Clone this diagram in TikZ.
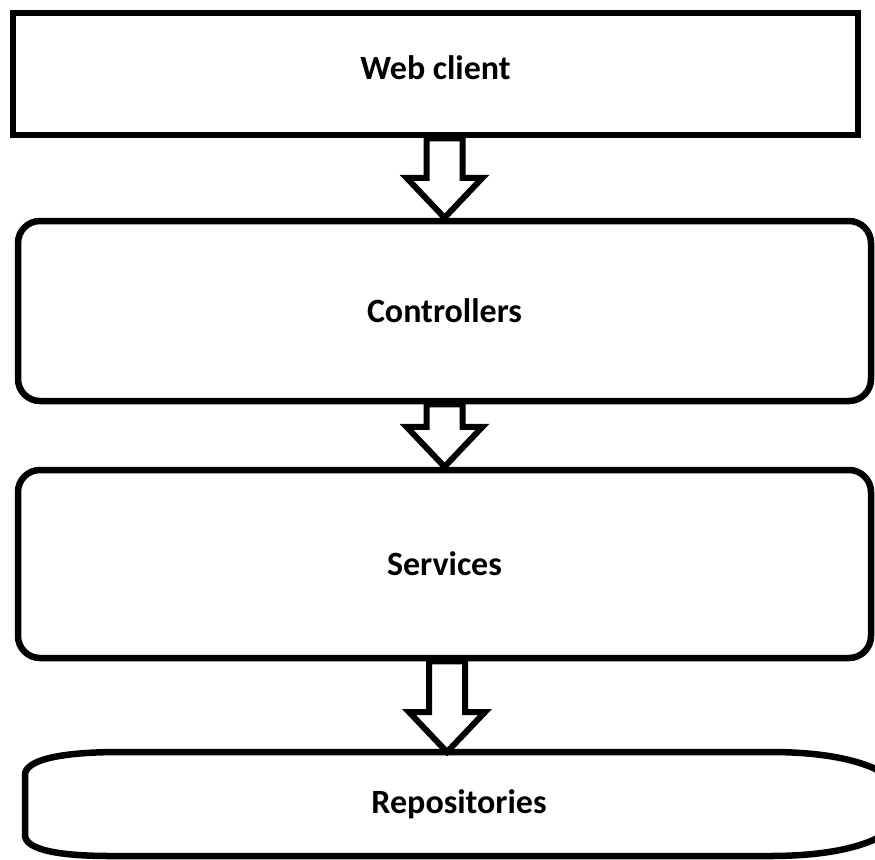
\documentclass[tikz,border=0pt]{standalone}
\usepackage{fontspec}
\setmainfont{Carlito}
\usetikzlibrary{calc}
\tikzset{
  layertext/.style={font=\fontsize{34}{40}\selectfont\bfseries},
  layer/.style={layertext, draw=black, line width=6.5pt, fill=white, minimum width=853pt, inner sep=0pt},
  roundlayer/.style={layer, rounded corners=22pt},
  arrowline/.style={draw=black, fill=white, line width=6pt, line join=miter}
}
% block arrow from the bottom of one layer down to a tip point
\def\blockarrow(#1)(#2){\draw[arrowline] ($(#1.south -| #2)+(-18,0)$) -- ($(#2)+(-18,-40)$) -- ($(#2)+(-38,-40)$) -- (#2) -- ($(#2)+(38,-40)$) -- ($(#2)+(18,-40)$) -- ($(#1.south -| #2)+(18,0)$) -- cycle;}

\begin{document}
\begin{tikzpicture}[x=1pt, y=-1pt]
  \useasboundingbox (0,0) rectangle (875,859);
  \clip (0,0) rectangle (875,859);

  %%%%% LAYERS %%%%%
  \node[layer, minimum width=845pt, minimum height=122pt] (web) at (435.5,74) {\raisebox{12pt}{Web client}};
  \node[roundlayer, minimum height=180pt] (ctrl) at (444.5,311) {Controllers};
  \node[roundlayer, minimum height=188pt] (serv) at (444.5,564) {Services};

  \draw[line width=6.5pt, fill=white] (120,752) -- (770,752)
    .. controls (860,752) and (905,775) .. (905,804)
    .. controls (905,833) and (860,856) .. (770,856) -- (110,856)
    .. controls (60,856) and (25,850) .. (25,835) -- (25,775)
    .. controls (25,760) and (60,752) .. (120,752) -- cycle;
  \node[layertext] (repo) at (459,804) {Repositories};
  \coordinate (repotop) at (447,752);

  %%%%% ARROWS %%%%%
  \blockarrow(web)(ctrl.north)
  \blockarrow(ctrl)(serv.north)
  \blockarrow(serv)(repotop)
\end{tikzpicture}
\end{document}
